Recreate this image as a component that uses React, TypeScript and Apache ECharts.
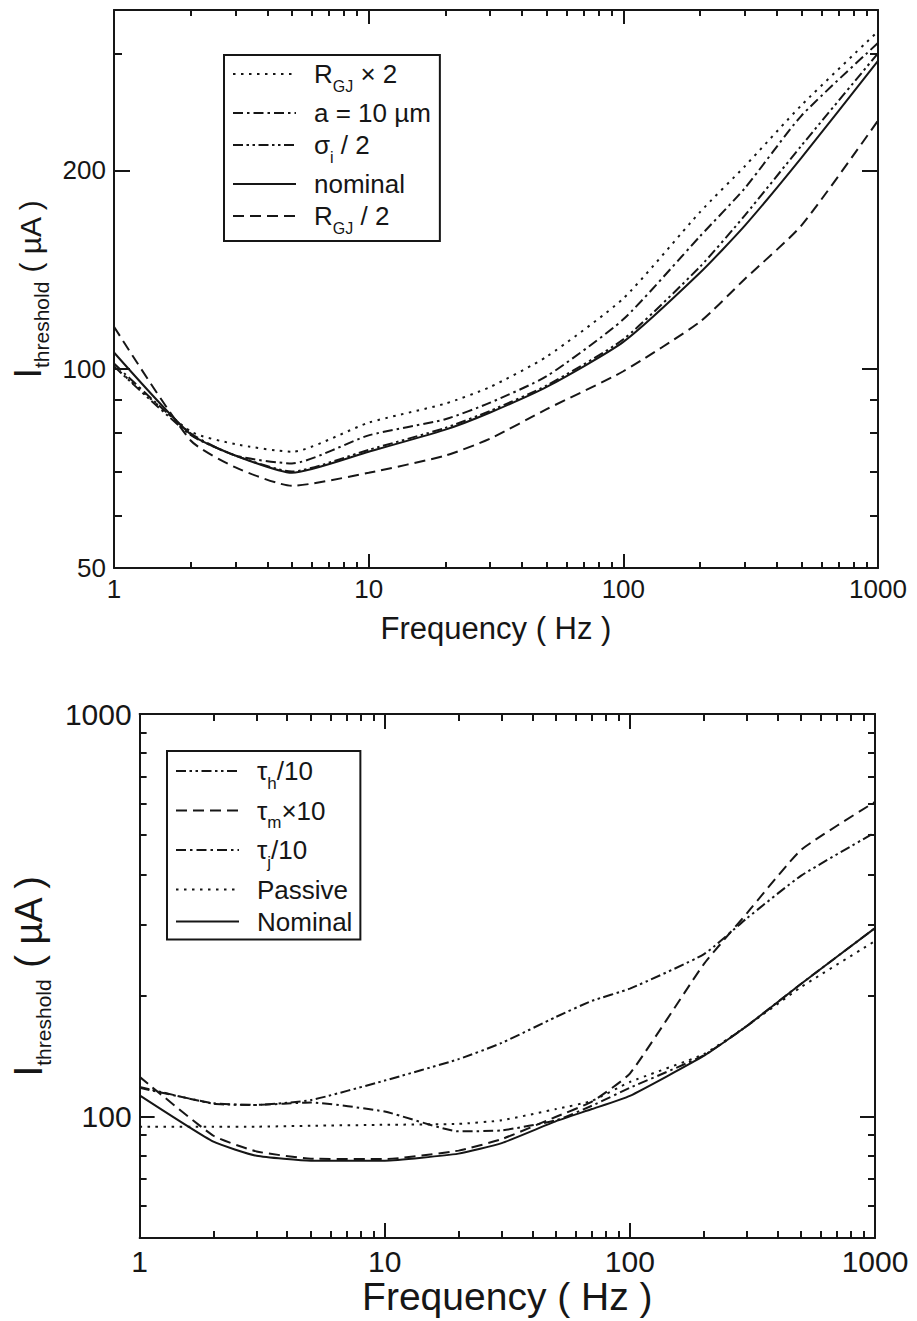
import React, { useEffect, useRef } from 'react';
import * as echarts from 'echarts';

// ---------- data ----------
const freqTop = [1, 2, 3, 5, 10, 20, 30, 50, 100, 200, 300, 500, 1000];
const rgjTimes2 = [101, 80.5, 77, 75, 83, 88.7, 94, 104.5, 128, 173, 203, 251, 325];
const aTenMicron = [102, 80, 74, 72, 79.4, 84, 89, 97.6, 119, 159, 188, 242, 312];
const sigmaHalf = [101, 79.5, 74, 70, 75.5, 81.5, 86.5, 94.5, 111, 143, 171, 218, 301];
const nominalTop = [106, 79.7, 74, 69.7, 75, 81, 86, 94, 110, 140, 165, 209, 293];
const rgjHalf = [116, 78, 71, 66.6, 69.7, 74, 78.5, 87, 99.3, 118, 137, 165, 238];

const freqBottom = [1, 2, 3, 5, 10, 20, 30, 50, 70, 100, 200, 300, 500, 1000];
const tauH = [118.6, 107.7, 107, 110, 123, 139, 152.5, 177, 194, 208, 253, 311, 397, 508];
const tauM = [125.6, 89.7, 82, 78.7, 78.5, 82.4, 88, 100, 109, 128, 239, 320, 460, 605];
const tauJ = [118, 108, 107, 108.5, 103, 92, 92.5, 98, 106.5, 118, 142, 168, 214, 294];
const passive = [94.5, 94.5, 94.5, 95, 95.5, 96, 98, 104.5, 109.5, 122, 143, 168, 210, 273];
const nominalBottom = [113, 86.7, 80, 77.8, 77.8, 81, 86, 97.5, 104.5, 112.7, 141.6, 168, 214, 294];

// ---------- ticks ----------
const xMajorTicks = [1, 10, 100, 1000];
const xMinorTicks = [2, 3, 4, 5, 6, 7, 8, 9, 20, 30, 40, 50, 60, 70, 80, 90, 200, 300, 400, 500, 600, 700, 800, 900];
const topYMajorTicks = [50, 100, 200];
const topYMinorTicks = [60, 70, 80, 90, 300];
const bottomYMajorTicks = [100, 1000];
const bottomYMinorTicks = [60, 70, 80, 90, 200, 300, 400, 500, 600, 700, 800, 900];

// ---------- labels ----------
const topNames = ['RGJx2', 'a10', 'sigma2', 'nominal', 'RGJ/2'];
const topLabels: Record<string, string> = {
  'RGJx2': '{f|R}{s|GJ}{n| × 2}',
  'a10': '{f|a = 10 µm}',
  'sigma2': '{f|σ}{s|i}{n| / 2}',
  'nominal': '{f|nominal}',
  'RGJ/2': '{f|R}{s|GJ}{n| / 2}',
};
const bottomNames = ['tauh', 'taum', 'tauj', 'Passive', 'Nominal'];
const bottomLabels: Record<string, string> = {
  'tauh': '{f|τ}{s|h}{n|/10}',
  'taum': '{f|τ}{s|m}{n|×10}',
  'tauj': '{f|τ}{s|j}{n|/10}',
  'Passive': '{f|Passive}',
  'Nominal': '{f|Nominal}',
};

const FONT = '"Liberation Sans", Arial, Helvetica, sans-serif';
const INK = '#161616';

const DOT = [2.5, 5.5];
const DASH = [11, 6];
const DASHDOT = [10, 4, 2.5, 4];
const DASHDOTDOT = [10, 3.5, 2.5, 3.5, 2.5, 3.5];

function xAxesFor(grid: number, labelSize: number, titleSize: number, nameGap: number, majorLen: number, minorLen: number) {
  const base: any = {
    gridIndex: grid, type: 'log', logBase: 10, min: 1, max: 1000,
    splitLine: { show: false }, axisLabel: { show: false }, axisTick: { show: false },
    axisLine: { show: false, onZero: false },
  };
  const lineSt = { color: INK, width: 2 };
  return [
    {
      ...base, position: 'bottom',
      axisLine: { show: true, onZero: false, lineStyle: lineSt },
      axisTick: { show: true, inside: true, length: majorLen, customValues: xMajorTicks, lineStyle: lineSt },
      axisLabel: { show: true, customValues: xMajorTicks, formatter: (v: number) => String(Math.round(v)), fontFamily: FONT, fontSize: labelSize, color: INK, margin: 8 },
      name: 'Frequency ( Hz )', nameLocation: 'middle', nameGap,
      nameTextStyle: { fontFamily: FONT, fontSize: titleSize, color: INK },
    },
    { ...base, position: 'bottom', axisTick: { show: true, inside: true, length: minorLen, customValues: xMinorTicks, lineStyle: lineSt } },
    {
      ...base, position: 'top',
      axisLine: { show: true, onZero: false, lineStyle: lineSt },
      axisTick: { show: true, inside: true, length: majorLen, customValues: xMajorTicks, lineStyle: lineSt },
    },
    { ...base, position: 'top', axisTick: { show: true, inside: true, length: minorLen, customValues: xMinorTicks, lineStyle: lineSt } },
  ];
}

function yAxesFor(grid: number, min: number, max: number, major: number[], minor: number[], labelSize: number,
  majorLen: number, minorLen: number, nameGap: number, rich: any) {
  const base: any = {
    gridIndex: grid, type: 'log', logBase: 10, min, max,
    splitLine: { show: false }, axisLabel: { show: false }, axisTick: { show: false },
    axisLine: { show: false, onZero: false },
  };
  const lineSt = { color: INK, width: 2 };
  return [
    {
      ...base, position: 'left',
      axisLine: { show: true, onZero: false, lineStyle: lineSt },
      axisTick: { show: true, inside: true, length: majorLen, customValues: major, lineStyle: lineSt },
      axisLabel: { show: true, customValues: major, formatter: (v: number) => String(Math.round(v)), fontFamily: FONT, fontSize: labelSize, color: INK, margin: 8 },
      name: '{I|I}{s|threshold}{n| ( µA )}', nameLocation: 'middle', nameRotate: 90, nameGap,
      nameTextStyle: { fontFamily: FONT, color: INK, rich },
    },
    { ...base, position: 'left', axisTick: { show: true, inside: true, length: minorLen, customValues: minor, lineStyle: lineSt } },
    {
      ...base, position: 'right',
      axisLine: { show: true, onZero: false, lineStyle: lineSt },
      axisTick: { show: true, inside: true, length: majorLen, customValues: major, lineStyle: lineSt },
    },
    { ...base, position: 'right', axisTick: { show: true, inside: true, length: minorLen, customValues: minor, lineStyle: lineSt } },
  ];
}

function lineSeries(name: string, xs: number[], ys: number[], axisIndex: number, dash: any, smooth: number) {
  return {
    name, type: 'line', xAxisIndex: axisIndex, yAxisIndex: axisIndex,
    data: xs.map((x, i) => [x, ys[i]]),
    symbol: 'none', showSymbol: false, silent: true, smooth,
    lineStyle: { color: INK, width: 2, type: dash, cap: 'butt' },
    itemStyle: { color: INK },
    z: 3,
  };
}

function legendRich(size: number, subSize: number, subPad: number) {
  const common = { fontFamily: FONT, color: INK, verticalAlign: 'top' };
  return {
    f: { ...common, fontSize: size, lineHeight: size, padding: [0, 0, 0, 13] },
    n: { ...common, fontSize: size, lineHeight: size },
    s: { ...common, fontSize: subSize, lineHeight: subSize, padding: [subPad, 0, 0, 0] },
  };
}

function titleRich(iSize: number, nSize: number, nPad: number, sSize: number, sPad: number) {
  const common = { fontFamily: FONT, color: INK, verticalAlign: 'top' };
  return {
    I: { ...common, fontSize: iSize, lineHeight: iSize },
    n: { ...common, fontSize: nSize, lineHeight: nSize, padding: [nPad, 0, 0, 0] },
    s: { ...common, fontSize: sSize, lineHeight: sSize, padding: [sPad, 0, 0, 0] },
  };
}

function buildOption(): any {
  const legendBase = {
    orient: 'vertical', itemWidth: 63, itemHeight: 14, itemGap: 6,
    borderColor: INK, borderWidth: 2, backgroundColor: '#ffffff', borderRadius: 0,
    selectedMode: false, itemStyle: { opacity: 0 },
  };
  return {
    animation: false,
    backgroundColor: '#ffffff',
    grid: [
      { left: 114, top: 10, width: 764, height: 558 },
      { left: 132, top: 714, width: 743, height: 524 },
    ],
    xAxis: [
      ...xAxesFor(0, 26, 31, 45, 14, 6),
      ...xAxesFor(1, 30, 39, 39, 15, 7),
    ],
    yAxis: [
      ...yAxesFor(0, 50, 350, topYMajorTicks, topYMinorTicks, 26, 16, 8, 59, titleRich(38, 30, 7, 21, 22)),
      ...yAxesFor(1, 50, 1000, bottomYMajorTicks, bottomYMinorTicks, 30, 15, 7, 68, titleRich(40, 38, 2, 21, 25)),
    ],
    legend: [
      {
        ...legendBase, data: topNames, left: 224, top: 55, padding: [6, 9, 5, 8],
        formatter: (n: string) => topLabels[n],
        textStyle: { fontFamily: FONT, fontSize: 26, color: INK, rich: legendRich(26, 16, 17) },
      },
      {
        ...legendBase, data: bottomNames, left: 167, top: 751, padding: [7, 8, 5, 8],
        formatter: (n: string) => bottomLabels[n],
        textStyle: { fontFamily: FONT, fontSize: 26, color: INK, rich: legendRich(26, 17, 16.5) },
      },
    ],
    series: [
      lineSeries('RGJx2', freqTop, rgjTimes2, 0, DOT, 0.2),
      lineSeries('a10', freqTop, aTenMicron, 0, DASHDOT, 0.2),
      lineSeries('sigma2', freqTop, sigmaHalf, 0, DASHDOTDOT, 0.2),
      lineSeries('nominal', freqTop, nominalTop, 0, 'solid', 0.2),
      lineSeries('RGJ/2', freqTop, rgjHalf, 0, DASH, 0.2),
      lineSeries('tauh', freqBottom, tauH, 4, DASHDOTDOT, 0.15),
      lineSeries('taum', freqBottom, tauM, 4, DASH, 0.15),
      lineSeries('tauj', freqBottom, tauJ, 4, DASHDOT, 0.15),
      lineSeries('Passive', freqBottom, passive, 4, DOT, 0.15),
      lineSeries('Nominal', freqBottom, nominalBottom, 4, 'solid', 0.15),
    ],
  };
}

export default function App() {
  const ref = useRef<HTMLDivElement>(null);
  useEffect(() => {
    document.body.style.margin = '0';
    const chart = echarts.init(ref.current as HTMLDivElement, undefined, { renderer: 'svg' });
    chart.setOption(buildOption());
    return () => chart.dispose();
  }, []);
  return <div ref={ref} style={{ width: 917, height: 1321, background: '#ffffff' }} />;
}
